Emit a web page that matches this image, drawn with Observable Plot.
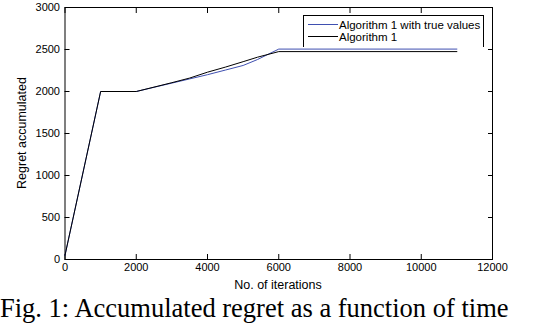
<!DOCTYPE html>
<html>
<head>
<meta charset="utf-8">
<script src="https://cdn.jsdelivr.net/npm/d3@7"></script>
<script src="https://cdn.jsdelivr.net/npm/@observablehq/plot@0.6"></script>
<style>
  html, body { margin: 0; padding: 0; background: #fff; }
  #wrap { position: relative; width: 540px; height: 324px; overflow: hidden; font-family: "Liberation Sans", Arial, sans-serif; }
  #legend { position: absolute; left: 303px; top: 15px; width: 179px; height: 31px; border: 1px solid #000; border-bottom: none; background: #fff; }
  .lrow { position: absolute; left: 4px; height: 12px; font-size: 11.5px; line-height: 12px; color: #000; white-space: nowrap; }
  .lrow span.sw { display: inline-block; width: 30px; height: 0; vertical-align: middle; margin-right: 1px; position: relative; top: -1px; }
  #caption { position: absolute; left: 0; top: 295px; font-family: "Liberation Serif", "Times New Roman", serif; font-size: 26.5px; line-height: 1; white-space: nowrap; color: #000; }
</style>
</head>
<body>
<div id="wrap"></div>
<script>
const iterations = [0, 1000, 2000, 3000, 3500, 4000, 4500, 5000, 5400, 6000, 11000];
const regretTrue = [50, 2000, 2000, 2100, 2150, 2200, 2255, 2310, 2380, 2505, 2505];
const regretAlg1 = [50, 2000, 2000, 2105, 2160, 2230, 2290, 2355, 2408, 2475, 2475];
const seriesNames = ["Algorithm 1 with true values", "Algorithm 1"];
const seriesColors = ["#3f4fb0", "#000000"];
const xTicks = [0, 2000, 4000, 6000, 8000, 10000, 12000];
const yTicks = [0, 500, 1000, 1500, 2000, 2500, 3000];

const rows = [];
iterations.forEach((it, i) => {
  rows.push({series: seriesNames[0], x: it, y: regretTrue[i]});
});
iterations.forEach((it, i) => {
  rows.push({series: seriesNames[1], x: it, y: regretAlg1[i]});
});

const plot = Plot.plot({
  width: 540,
  height: 324,
  marginLeft: 64.5,
  marginRight: 48,
  marginTop: 7,
  marginBottom: 65,
  style: {fontFamily: "'Liberation Sans', Arial, sans-serif", fontSize: "11px", color: "#000", background: "#fff"},
  x: {domain: [0, 12000]},
  y: {domain: [0, 3000]},
  color: {domain: seriesNames, range: seriesColors},
  marks: [
    Plot.frame({stroke: "#000", strokeWidth: 1}),
    Plot.axisX({ticks: xTicks, tickSize: 0, tickPadding: 4, tickFormat: d => String(d), label: null}),
    Plot.axisX({ticks: xTicks, anchor: "bottom", tickSize: -5, text: null, label: null}),
    Plot.axisX({ticks: xTicks, anchor: "top", tickSize: -5, text: null, label: null}),
    Plot.axisY({ticks: yTicks, tickSize: 0, tickPadding: 5, tickFormat: d => String(d), label: null}),
    Plot.axisY({ticks: yTicks, anchor: "left", tickSize: -5, text: null, label: null}),
    Plot.axisY({ticks: yTicks, anchor: "right", tickSize: -5, text: null, label: null}),
    Plot.line(rows, {x: "x", y: "y", z: "series", stroke: "series", strokeWidth: 1})
  ]
});

const wrap = document.getElementById("wrap");
wrap.appendChild(plot);

// axis titles
const svg = d3.select(plot);
svg.append("text")
  .attr("x", 278).attr("y", 289)
  .attr("text-anchor", "middle")
  .attr("font-size", "12.5px")
  .attr("fill", "#000")
  .text("No. of iterations");
svg.append("text")
  .attr("transform", "translate(26,133) rotate(-90)")
  .attr("text-anchor", "middle")
  .attr("font-size", "12.5px")
  .attr("fill", "#000")
  .text("Regret accumulated");

// legend
const legend = document.createElement("div");
legend.id = "legend";
seriesNames.forEach((name, i) => {
  const r = document.createElement("div");
  r.className = "lrow";
  r.style.top = (3 + i * 12) + "px";
  r.innerHTML = `<span class="sw" style="border-top:1px solid ${seriesColors[i]}"></span>${name}`;
  legend.appendChild(r);
});
wrap.appendChild(legend);

const cap = document.createElement("div");
cap.id = "caption";
cap.textContent = "Fig. 1: Accumulated regret as a function of time";
wrap.appendChild(cap);
</script>
</body>
</html>
